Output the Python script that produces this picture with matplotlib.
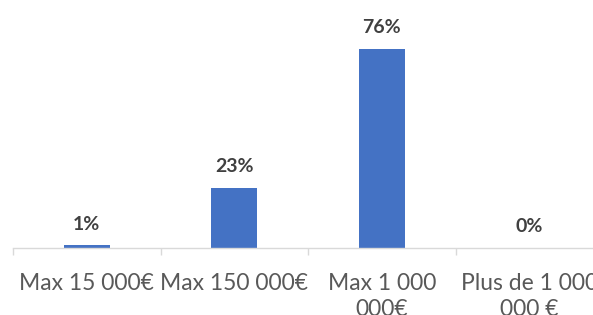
import matplotlib
matplotlib.use("Agg")
import matplotlib.pyplot as plt

categories = ["Max 15 000€", "Max 150 000€", "Max 1 000\n000€", "Plus de 1 000\n000 €"]
values = [1, 23, 76, 0]
value_labels = ["1%", "23%", "76%", "0%"]

W, H = 593, 315
fig = plt.figure(figsize=(W / 100, H / 100), dpi=100)
# axes extends past the right edge, as in the cropped original
ax = fig.add_axes([13 / W, 67 / H, 590 / W, 210 / H])

x = range(len(categories))
bars = ax.bar(x, values, width=0.31, color="#4472C4", zorder=2)

for b, lab in zip(bars, value_labels):
    ax.annotate(lab, (b.get_x() + b.get_width() / 2, b.get_height()),
                xytext=(0, 9), textcoords="offset points",
                ha="center", va="bottom", fontsize=14, fontweight="bold",
                color="#404040", family="Lato")

ax.set_xlim(-0.5, 3.5)
ax.set_ylim(0, 80)
ax.set_yticks([])
ax.set_xticks([-0.5, 0.5, 1.5, 2.5, 3.5])
ax.set_xticklabels([])
ax.set_xticks(list(x), minor=True)
ax.set_xticklabels(categories, minor=True, fontsize=16.5, color="#595959",
                   family="Lato", linespacing=1.3)
ax.tick_params(axis="x", which="major", length=5, width=1, color="#D9D9D9")
ax.tick_params(axis="x", which="minor", length=0, pad=18)

for side in ["left", "right", "top"]:
    ax.spines[side].set_visible(False)
ax.spines["bottom"].set_color("#D9D9D9")
ax.spines["bottom"].set_linewidth(1)

fig.savefig("out.png", dpi=100)
